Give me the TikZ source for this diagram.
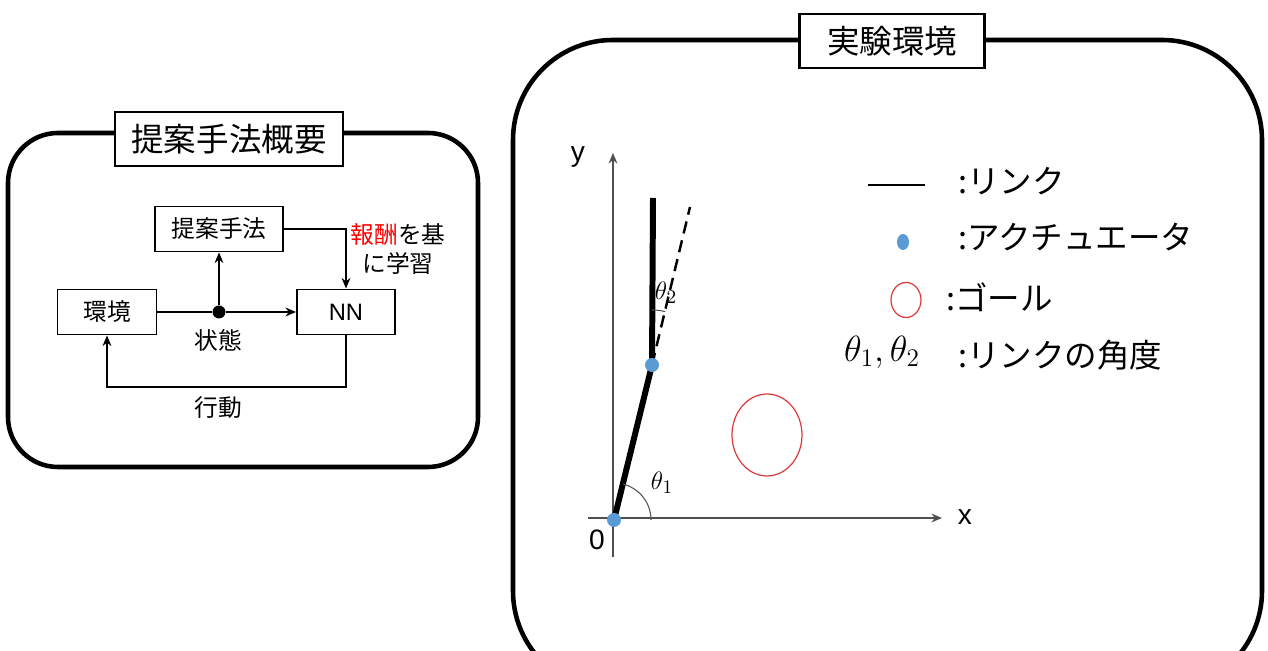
\documentclass[tikz,border=0pt]{standalone}
\usepackage{fontspec}
\setmainfont{Liberation Sans}
\newfontfamily\jp{Noto Sans CJK JP}
\usetikzlibrary{arrows.meta,shapes.geometric}

\definecolor{jointblue}{RGB}{91,155,213}
\definecolor{goalred}{RGB}{222,60,60}
\definecolor{axisgray}{RGB}{80,80,80}

\tikzset{
  frame/.style={line width=2.6pt, rounded corners=1cm},
  titlebox/.style={draw, fill=white, line width=1.3pt, minimum height=1.08cm,
    font=\jp\fontsize{18.5}{20}\selectfont},
  block/.style={draw, line width=1.1pt, minimum height=0.9cm,
    font=\jp\fontsize{13.5}{15}\selectfont},
  flow/.style={line width=1.1pt, -{Stealth[length=6pt,width=5pt]}},
  label/.style={font=\jp\fontsize{13.5}{16}\selectfont},
  legend/.style={anchor=west, font=\jp\fontsize{18.5}{20}\selectfont},
  axis/.style={axisgray, line width=0.8pt, -{Stealth[length=6pt,width=5pt]}},
  link/.style={line width=3.4pt},
  joint/.style={circle, fill=jointblue, inner sep=0pt, minimum size=0.28cm},
}

\begin{document}
\begin{tikzpicture}[x=0.02cm, y=0.02cm]
  \path[use as bounding box] (0,0) rectangle (1268,651);
  \clip (0,0) rectangle (1268,651);
  % outline of the method
  \draw[frame] (8,184) rectangle (478,518);
  \node[titlebox, minimum width=4.56cm] (ttl1) at (229,512) {提案手法概要};
  \node[block, minimum width=2.56cm] (method) at (219,422) {提案手法};
  \node[block, minimum width=1.98cm] (env) at (107,339) {環境};
  \node[block, minimum width=1.96cm, font=\fontsize{13.5}{15}\selectfont] (nn) at (346,339) {NN};
  \node[circle, fill, inner sep=0pt, minimum size=0.26cm] (state) at (219,339) {};
  \node[label] (statelbl) at (218,311) {状態};
  \node[label] (actlbl) at (218,243) {行動};
  \node[label, align=center] (reward) at (398,402) {\textcolor{red}{報酬}を基\\に学習};
  \coordinate (turn) at (346,264);
  % arrows
  \draw[line width=1.1pt] (env) -- (state);
  \draw[flow] (state) -- (nn);
  \draw[flow] (state) -- (method);
  \draw[flow] (method) -| (nn);
  \draw[flow] (nn) -- (nn |- turn) -| (env);

  % experiment setting
  \draw[frame, rounded corners=2cm] (513,-40) rectangle (1262,611);
  \node[titlebox, minimum width=3.7cm] (ttl2) at (892,610) {実験環境};
  % axes
  \coordinate (o) at (614,131);
  \coordinate (xs) at (588,133);
  \coordinate (xe) at (942,133);
  \coordinate (ys) at (613,94);
  \coordinate (ye) at (613,498);
  \draw[axis] (xs) -- (xe);
  \draw[axis] (ys) -- (ye);
  \node[font=\fontsize{16}{18}\selectfont] (xlbl) at (965,134) {x};
  \node[font=\fontsize{16}{18}\selectfont] (ylbl) at (578,494) {y};
  \node[font=\fontsize{16}{18}\selectfont] (zero) at (597,111) {0};
  % arm
  \coordinate (j) at (652,286);
  \coordinate (tip) at (653,453);
  \coordinate (ext) at (690,444);
  \draw[line width=1.4pt, dash pattern=on 7pt off 4pt] (j) -- (ext);
  \draw[link] (o) -- (j) -- (tip);
  \draw[axisgray, line width=0.6pt] (o) ++(37,0) arc[start angle=0, end angle=76, radius=37];
  \draw[axisgray, line width=0.6pt] (j) ++(76:55) arc[start angle=76, end angle=90, radius=55];
  \node[joint] (base) at (o) {};
  \node[joint] (elbow) at (j) {};
  \node[font=\fontsize{15}{18}\selectfont] (th1) at (662,168) {$\theta_1$};
  \node[font=\fontsize{15}{18}\selectfont] (th2) at (666,358) {$\theta_2$};
  \node[ellipse, draw=goalred, line width=0.7pt, minimum width=1.4cm, minimum height=1.64cm] (goal) at (767,216) {};
  % legend
  \coordinate (lga) at (868,466);
  \coordinate (lgb) at (925,466);
  \draw[line width=1.3pt] (lga) -- (lgb);
  \node[legend] (lg1) at (952,470) {:リンク};
  \node[ellipse, fill=jointblue, inner sep=0pt, minimum width=0.24cm, minimum height=0.32cm] (lgdot) at (903,409) {};
  \node[legend] (lg2) at (952,414) {:アクチュエータ};
  \node[ellipse, draw=goalred, line width=0.7pt, minimum width=0.6cm, minimum height=0.7cm] (lggoal) at (906,351) {};
  \node[legend] (lg3) at (940,354) {:ゴール};
  \node[font=\fontsize{20}{22}\selectfont] (lgth) at (882,299) {$\theta_1,\theta_2$};
  \node[legend] (lg4) at (952,296) {:リンクの角度};
\end{tikzpicture}
\end{document}
